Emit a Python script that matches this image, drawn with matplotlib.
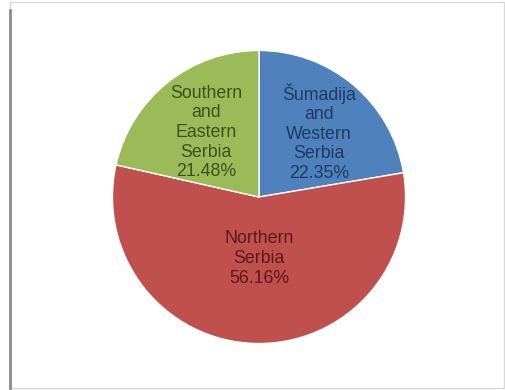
import matplotlib
matplotlib.use("Agg")
import matplotlib.pyplot as plt
from matplotlib.patches import Rectangle
from matplotlib.lines import Line2D

regions = ["Šumadija\nand\nWestern\nSerbia", "Northern\nSerbia", "Southern\nand\nEastern\nSerbia"]
shares = [22.35, 56.16, 21.48]
colors = ["#4F81BD", "#C0504D", "#9BBB59"]
text_colors = ["#1F3A60", "#5A1A18", "#3F4F1E"]
label_pos = [(0.41, 0.44), (0.0, -0.42), (-0.36, 0.44)]

plt.rcParams['font.family'] = ['Liberation Sans', 'DejaVu Sans']
fig = plt.figure(figsize=(5.06, 3.9), dpi=100)
fig.patch.set_facecolor("white")

ax = fig.add_axes([111/506, 45/390, 296/506, 296/390])
wedges, _ = ax.pie(shares, colors=colors, startangle=90, counterclock=False,
                   wedgeprops=dict(edgecolor="white", linewidth=1.0))
for lab, val, (x, y), tc in zip(regions, shares, label_pos, text_colors):
    ax.text(x, y, f"{lab}\n{val:.2f}%", ha="center", va="center",
            fontsize=12.8, color=tc, linespacing=1.2)
ax.set_xlim(-1.01, 1.01)
ax.set_ylim(-1.01, 1.01)
ax.set_aspect("equal")
ax.axis("off")

# frame
fig.add_artist(Rectangle((10/506, 2/390), 494/506, 386/390, transform=fig.transFigure,
                         fill=False, edgecolor="#d9d9d9", linewidth=1))
fig.add_artist(Line2D([10/506, 10/506], [0, 380/390], transform=fig.transFigure,
                      color="#8c8c8c", linewidth=2))

fig.savefig("out.png", dpi=100, facecolor="white")
